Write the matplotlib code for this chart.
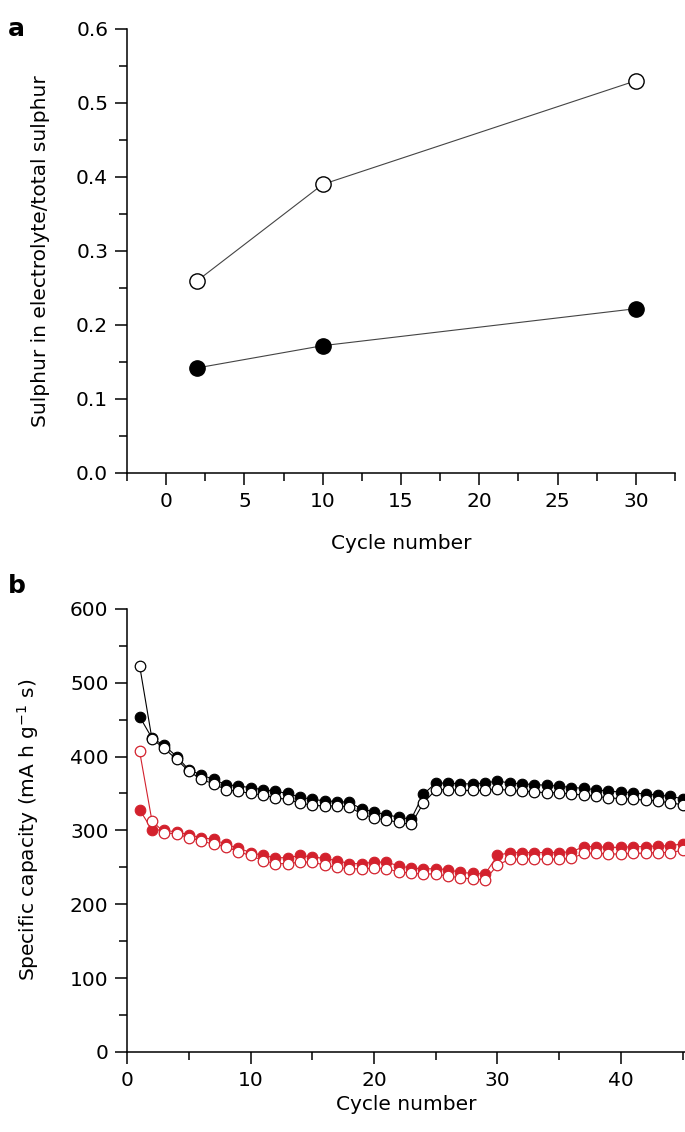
import numpy as np
import matplotlib
matplotlib.use("Agg")
import matplotlib.pyplot as plt
from matplotlib.ticker import MultipleLocator, FormatStrFormatter

plt.rcParams['font.family'] = ['DejaVu Sans']
plt.rcParams['mathtext.default'] = 'regular'

# panel a: sulphur fraction
ciclos_a = [2, 10, 30]
s_abierto = [0.26, 0.39, 0.53]
s_lleno = [0.142, 0.172, 0.222]

# panel b: specific capacity, cycles 1..45
ciclos_b = list(range(1, 46))
negro_lleno = [454, 425, 415, 400, 382, 375, 369, 362, 360, 358,
               355, 353, 350, 345, 342, 340, 339, 338, 329, 325,
               321, 318, 315, 349, 364, 364, 363, 363, 364, 367,
               364, 363, 362, 361, 360, 358, 357, 355, 353, 352,
               351, 349, 348, 346, 343]
negro_abierto = [523, 424, 411, 396, 380, 369, 363, 355, 353, 350,
                 348, 344, 342, 337, 334, 333, 333, 332, 322, 317,
                 314, 311, 308, 337, 355, 355, 354, 354, 354, 356,
                 354, 353, 352, 351, 351, 349, 348, 346, 344, 343,
                 342, 341, 340, 337, 335]
rojo_lleno = [328, 301, 300, 298, 294, 290, 288, 281, 276, 270,
              266, 263, 263, 266, 264, 262, 259, 255, 255, 257,
              257, 252, 249, 248, 248, 247, 243, 242, 241, 266,
              270, 270, 270, 270, 270, 271, 278, 278, 277, 277,
              278, 278, 279, 279, 282]
rojo_abierto = [407, 313, 297, 295, 290, 286, 281, 278, 271, 266,
                259, 255, 255, 257, 257, 253, 250, 248, 248, 249,
                248, 244, 242, 241, 241, 238, 236, 234, 233, 253,
                261, 261, 261, 261, 261, 262, 269, 269, 268, 268,
                269, 269, 270, 270, 273]

ROJO = '#d3212d'
FS = 14.5

fig = plt.figure(figsize=(6.85, 11.32), dpi=100)
ax1 = fig.add_axes([0.1854, 0.5822, 0.80, 0.3922])
ax2 = fig.add_axes([0.1858, 0.0707, 0.8142, 0.3915])

# ---- panel a
ax1.plot(ciclos_a, s_abierto, '-', color='#444444', lw=0.8, zorder=1)
ax1.plot(ciclos_a, s_abierto, 'o', ms=11, mfc='white', mec='black', mew=1.0, zorder=3)
ax1.plot(ciclos_a, s_lleno, '-', color='#444444', lw=0.8, zorder=1)
ax1.plot(ciclos_a, s_lleno, 'o', ms=11, mfc='black', mec='black', zorder=3)
ax1.set_xlim(-2.5, 32.5)
ax1.set_ylim(0, 0.6)
ax1.xaxis.set_major_locator(MultipleLocator(5))
ax1.xaxis.set_minor_locator(MultipleLocator(2.5))
ax1.yaxis.set_major_locator(MultipleLocator(0.1))
ax1.yaxis.set_minor_locator(MultipleLocator(0.05))
ax1.yaxis.set_major_formatter(FormatStrFormatter('%.1f'))
ax1.set_xlabel('Cycle number', fontsize=FS)
ax1.set_ylabel('Sulphur in electrolyte/total sulphur', fontsize=FS)
ax1.xaxis.set_label_coords(0.5, -0.138)
ax1.yaxis.set_label_coords(-0.141, 0.5)

# ---- panel b
ax2.plot(ciclos_b, rojo_lleno, '-', color=ROJO, lw=0.8, zorder=1)
ax2.plot(ciclos_b, rojo_lleno, 'o', ms=7.6, mfc=ROJO, mec=ROJO, mew=0.8, zorder=2)
ax2.plot(ciclos_b, rojo_abierto, '-', color=ROJO, lw=0.8, zorder=3)
ax2.plot(ciclos_b, rojo_abierto, 'o', ms=7.6, mfc='white', mec=ROJO, mew=0.9, zorder=4)
ax2.plot(ciclos_b, negro_lleno, '-', color='black', lw=0.8, zorder=1)
ax2.plot(ciclos_b, negro_lleno, 'o', ms=7.6, mfc='black', mec='black', mew=0.8, zorder=2)
ax2.plot(ciclos_b, negro_abierto, '-', color='black', lw=0.8, zorder=3)
ax2.plot(ciclos_b, negro_abierto, 'o', ms=7.6, mfc='white', mec='black', mew=0.9, zorder=4)
ax2.set_xlim(0, 45.2)
ax2.set_ylim(0, 600)
ax2.xaxis.set_major_locator(MultipleLocator(10))
ax2.xaxis.set_minor_locator(MultipleLocator(5))
ax2.yaxis.set_major_locator(MultipleLocator(100))
ax2.yaxis.set_minor_locator(MultipleLocator(50))
ax2.set_xlabel('Cycle number', fontsize=FS)
ax2.set_ylabel('Specific capacity (mA h g$^{-1}$ s)', fontsize=FS)
ax2.xaxis.set_label_coords(0.5, -0.097)
ax2.yaxis.set_label_coords(-0.155, 0.5)

for ax in (ax1, ax2):
    ax.spines['top'].set_visible(False)
    ax.spines['right'].set_visible(False)
    for s in ('left', 'bottom'):
        ax.spines[s].set_linewidth(1.1)
    ax.tick_params(which='major', direction='out', length=8.5, width=1.1, labelsize=FS, pad=5)
    ax.tick_params(which='minor', direction='out', length=5.5, width=1.1)
    for l in ax.lines:
        l.set_clip_on(False)

fig.text(0.012, 0.985, 'a', fontsize=18, fontweight='bold', va='top')
fig.text(0.012, 0.493, 'b', fontsize=18, fontweight='bold', va='top')

fig.savefig('out.png', dpi=100)
